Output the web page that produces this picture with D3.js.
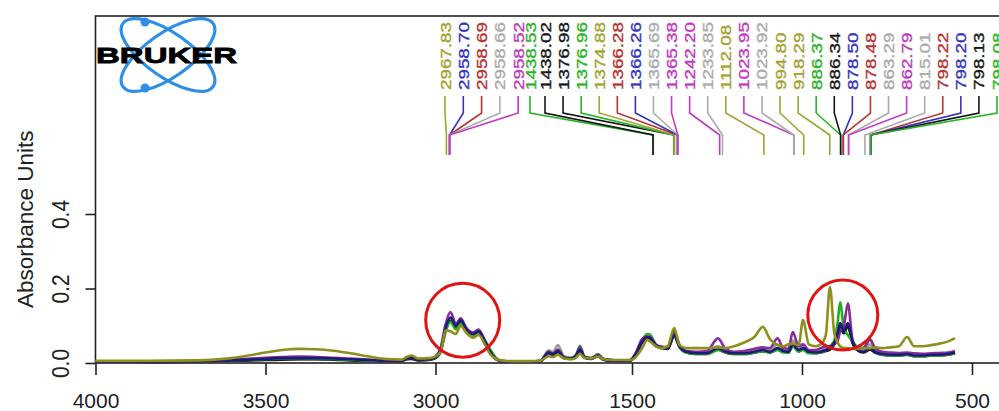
<!DOCTYPE html>
<meta charset="utf-8">
<style>
  body { margin: 0; background: #fff; }
  text { font-family: "Liberation Sans", Arial, sans-serif; }
</style>
<script src="https://cdnjs.cloudflare.com/ajax/libs/d3/7.8.5/d3.min.js"></script>
<body>
<div id="spectra"></div>
</body>
<script>
// wavenumber grid (cm-1) shared by all spectra
var wavenumbers = [4000, 3900, 3800, 3700, 3650, 3600, 3550, 3500, 3450, 3400,
  3350, 3300, 3250, 3200, 3150, 3100, 3085, 3070, 3050, 3020,
  3000, 2985, 2970, 2956, 2940, 2926, 2910, 2890, 2873, 2855,
  2838, 2820, 2800, 2760, 1800, 1770, 1745, 1732, 1718, 1700,
  1680, 1665, 1653, 1640, 1620, 1600, 1585, 1560, 1530, 1505,
  1490, 1470, 1455, 1447, 1430, 1415, 1395, 1376, 1360, 1340,
  1310, 1280, 1247, 1225, 1200, 1170, 1140, 1115, 1095, 1072,
  1055, 1040, 1027, 1010, 997, 980, 960, 945, 930, 918,
  905, 895, 888, 877, 865, 852, 840, 820, 800, 785,
  765, 740, 715, 691, 670, 645, 620, 595, 570, 550];

var grayAbs = [0.003, 0.003, 0.004, 0.004, 0.005, 0.006, 0.007, 0.009, 0.010, 0.010,
  0.010, 0.009, 0.008, 0.006, 0.005, 0.005, 0.010, 0.012, 0.007, 0.009,
  0.014, 0.032, 0.090, 0.115, 0.095, 0.110, 0.088, 0.075, 0.082, 0.056,
  0.026, 0.009, 0.004, 0.003, 0.003, 0.005, 0.034, 0.030, 0.048, 0.018,
  0.014, 0.020, 0.040, 0.016, 0.012, 0.018, 0.010, 0.006, 0.005, 0.006,
  0.020, 0.055, 0.068, 0.066, 0.046, 0.040, 0.038, 0.076, 0.044, 0.030,
  0.028, 0.028, 0.045, 0.034, 0.028, 0.028, 0.034, 0.040, 0.035, 0.050,
  0.036, 0.034, 0.060, 0.040, 0.044, 0.032, 0.030, 0.034, 0.040, 0.045,
  0.050, 0.065, 0.090, 0.080, 0.100, 0.055, 0.040, 0.036, 0.050, 0.034,
  0.026, 0.024, 0.024, 0.026, 0.022, 0.022, 0.024, 0.024, 0.026, 0.030];

var blackAbs = [0.003, 0.003, 0.003, 0.004, 0.005, 0.006, 0.007, 0.008, 0.009, 0.010,
  0.010, 0.009, 0.007, 0.006, 0.005, 0.005, 0.010, 0.011, 0.007, 0.008,
  0.013, 0.030, 0.088, 0.112, 0.094, 0.108, 0.088, 0.074, 0.080, 0.055,
  0.026, 0.009, 0.004, 0.003, 0.003, 0.004, 0.026, 0.022, 0.030, 0.013,
  0.011, 0.016, 0.034, 0.014, 0.011, 0.018, 0.009, 0.006, 0.005, 0.006,
  0.020, 0.055, 0.066, 0.064, 0.045, 0.040, 0.038, 0.072, 0.042, 0.028,
  0.024, 0.024, 0.036, 0.028, 0.024, 0.024, 0.028, 0.032, 0.028, 0.036,
  0.030, 0.028, 0.046, 0.032, 0.036, 0.028, 0.026, 0.028, 0.032, 0.036,
  0.050, 0.075, 0.100, 0.080, 0.100, 0.055, 0.036, 0.028, 0.036, 0.028,
  0.022, 0.020, 0.020, 0.022, 0.018, 0.018, 0.020, 0.020, 0.022, 0.026];

var greenAbs = [0.004, 0.004, 0.004, 0.005, 0.006, 0.007, 0.009, 0.011, 0.012, 0.013,
  0.012, 0.011, 0.009, 0.007, 0.006, 0.006, 0.012, 0.014, 0.008, 0.010,
  0.015, 0.030, 0.085, 0.110, 0.090, 0.105, 0.085, 0.072, 0.080, 0.062,
  0.035, 0.012, 0.005, 0.004, 0.004, 0.005, 0.030, 0.025, 0.034, 0.016,
  0.013, 0.022, 0.046, 0.018, 0.013, 0.024, 0.012, 0.008, 0.006, 0.008,
  0.025, 0.062, 0.078, 0.076, 0.050, 0.042, 0.040, 0.080, 0.045, 0.028,
  0.024, 0.024, 0.035, 0.028, 0.024, 0.024, 0.028, 0.032, 0.028, 0.035,
  0.028, 0.028, 0.045, 0.030, 0.036, 0.026, 0.026, 0.028, 0.035, 0.045,
  0.060, 0.110, 0.163, 0.095, 0.075, 0.060, 0.045, 0.040, 0.065, 0.035,
  0.022, 0.020, 0.020, 0.022, 0.018, 0.018, 0.020, 0.020, 0.022, 0.026];

var purpleAbs = [0.004, 0.004, 0.005, 0.006, 0.007, 0.009, 0.011, 0.014, 0.016, 0.017,
  0.016, 0.014, 0.012, 0.009, 0.007, 0.007, 0.014, 0.016, 0.009, 0.011,
  0.018, 0.040, 0.105, 0.137, 0.105, 0.120, 0.095, 0.082, 0.090, 0.060,
  0.028, 0.010, 0.005, 0.004, 0.004, 0.005, 0.030, 0.025, 0.036, 0.015,
  0.012, 0.020, 0.042, 0.016, 0.013, 0.022, 0.011, 0.008, 0.006, 0.008,
  0.025, 0.065, 0.072, 0.070, 0.050, 0.044, 0.042, 0.085, 0.048, 0.032,
  0.030, 0.032, 0.066, 0.038, 0.030, 0.032, 0.038, 0.042, 0.040, 0.066,
  0.040, 0.038, 0.083, 0.045, 0.050, 0.035, 0.035, 0.040, 0.045, 0.045,
  0.050, 0.060, 0.085, 0.100, 0.160, 0.065, 0.042, 0.040, 0.062, 0.040,
  0.030, 0.028, 0.027, 0.028, 0.026, 0.025, 0.026, 0.027, 0.028, 0.032];

var navyAbs = [0.004, 0.004, 0.004, 0.005, 0.006, 0.007, 0.009, 0.011, 0.013, 0.013,
  0.013, 0.012, 0.010, 0.008, 0.006, 0.006, 0.012, 0.014, 0.008, 0.010,
  0.016, 0.035, 0.095, 0.122, 0.100, 0.115, 0.092, 0.078, 0.085, 0.058,
  0.028, 0.010, 0.005, 0.004, 0.004, 0.005, 0.028, 0.024, 0.032, 0.014,
  0.012, 0.018, 0.036, 0.016, 0.012, 0.020, 0.010, 0.007, 0.006, 0.007,
  0.022, 0.058, 0.070, 0.068, 0.048, 0.042, 0.040, 0.075, 0.045, 0.030,
  0.026, 0.026, 0.040, 0.030, 0.026, 0.026, 0.030, 0.035, 0.030, 0.040,
  0.032, 0.030, 0.050, 0.035, 0.040, 0.030, 0.028, 0.030, 0.035, 0.040,
  0.055, 0.080, 0.107, 0.085, 0.107, 0.060, 0.040, 0.030, 0.040, 0.030,
  0.024, 0.022, 0.022, 0.024, 0.020, 0.020, 0.022, 0.022, 0.024, 0.028];

var oliveAbs = [0.006, 0.006, 0.006, 0.007, 0.009, 0.013, 0.020, 0.028, 0.035, 0.038,
  0.037, 0.033, 0.026, 0.018, 0.011, 0.009, 0.016, 0.020, 0.012, 0.013,
  0.018, 0.030, 0.088, 0.085, 0.078, 0.100, 0.082, 0.068, 0.075, 0.050,
  0.022, 0.010, 0.006, 0.005, 0.005, 0.006, 0.018, 0.016, 0.022, 0.012,
  0.010, 0.014, 0.025, 0.014, 0.012, 0.018, 0.010, 0.008, 0.008, 0.008,
  0.015, 0.040, 0.062, 0.058, 0.045, 0.040, 0.045, 0.094, 0.048, 0.040,
  0.040, 0.040, 0.042, 0.040, 0.045, 0.055, 0.070, 0.097, 0.065, 0.048,
  0.045, 0.050, 0.052, 0.048, 0.115, 0.050, 0.045, 0.050, 0.075, 0.204,
  0.080, 0.055, 0.045, 0.040, 0.040, 0.038, 0.038, 0.040, 0.040, 0.042,
  0.040, 0.042, 0.045, 0.070, 0.045, 0.045, 0.048, 0.052, 0.058, 0.067];

// drawing order: last one ends up on top
var seriesNames = ["gray", "black", "green", "purple", "navy", "olive"];
var seriesValues = [grayAbs, blackAbs, greenAbs, purpleAbs, navyAbs, oliveAbs];
var seriesColors = ["#9c9c9c", "#151515", "#22b022", "#8a2c9c", "#1c1c78", "#8f8f1c"];

// peak picking labels along the top
var peakLabels = ["2967.83", "2958.70", "2958.69", "2958.66", "2958.52", "1438.53", "1438.02",
  "1376.98", "1376.96", "1374.88", "1366.28", "1366.26", "1365.69", "1365.38", "1242.20",
  "1233.85", "1112.08", "1023.95", "1023.92", "994.80", "918.29", "886.37", "886.34",
  "878.50", "878.48", "863.29", "862.79", "815.01", "798.22", "798.20", "798.13", "798.08"];
var peakColors = ["olive", "blue", "red", "gray", "magenta", "green", "black",
  "black", "green", "olive", "red", "blue", "gray", "magenta", "magenta",
  "gray", "olive", "magenta", "gray", "olive", "olive", "green", "black",
  "blue", "red", "gray", "magenta", "gray", "red", "blue", "black", "green"];
var labelPalette = {olive: "#a3a332", blue: "#3535bd", red: "#b53434", gray: "#ababab",
  magenta: "#c13ac1", green: "#2ab42a", black: "#161616"};

// regions circled in red: [wavenumber, absorbance]
var highlights = [[2920, 0.115], [880, 0.129]];

var xTicks = [4000, 3500, 3000, 1500, 1000, 500];
var yTicks = [0.0, 0.2, 0.4];

var width = 999, height = 411;

var svg = d3.select("#spectra")
  .append("svg")
    .attr("width", width)
    .attr("height", height);

// broken wavenumber axis: 2750-1800 is squeezed out
var x = d3.scaleLinear()
  .domain([4000, 2750, 1800, 420])
  .range([95.5, 520.5, 530, 999.2]);

var y = d3.scaleLinear()
  .domain([0, 0.4])
  .range([363, 214]);

// frame
svg.append("rect")
  .attr("x", 95.5).attr("y", 16)
  .attr("width", 1000).attr("height", 347)
  .attr("fill", "none")
  .attr("stroke", "#222")
  .attr("stroke-width", 1.6);

// x axis
var xAxis = svg.append("g")
  .attr("transform", "translate(0,363)")
  .call(d3.axisBottom(x).tickValues(xTicks).tickSize(12).tickFormat(d3.format("d")));
xAxis.select(".domain").remove();
xAxis.selectAll("line").attr("stroke", "#222").attr("stroke-width", 1.6);
xAxis.selectAll("text")
  .attr("dy", null)
  .attr("y", 45)
  .attr("fill", "#222")
  .style("font-size", "21px")
  .attr("font-family", null);

// y axis
var yAxis = svg.append("g")
  .attr("transform", "translate(95.5,0)")
  .call(d3.axisLeft(y).tickValues(yTicks).tickSize(10).tickFormat(d3.format(".1f")));
yAxis.select(".domain").remove();
yAxis.selectAll("line").attr("stroke", "#222").attr("stroke-width", 1.6);
yAxis.selectAll("text")
  .attr("x", null)
  .attr("dy", null)
  .attr("text-anchor", "middle")
  .attr("transform", "translate(-27,0) scale(1.15,1) rotate(-90)")
  .attr("fill", "#222")
  .style("font-size", "21px")
  .attr("font-family", null);

svg.append("text")
  .attr("transform", "translate(33,308) rotate(-90)")
  .attr("fill", "#222")
  .style("font-size", "22.5px")
  .text("Absorbance Units");

// spectra
var line = d3.line()
  .x(function(d) { return x(d[0]); })
  .y(function(d) { return y(d[1]); })
  .curve(d3.curveMonotoneX);

svg.append("g")
  .selectAll("path")
  .data(seriesValues)
  .enter()
  .append("path")
    .attr("d", function(vals) {
      return line(wavenumbers.map(function(w, i) { return [w, vals[i]]; }));
    })
    .attr("fill", "none")
    .attr("stroke", function(d, i) { return seriesColors[i]; })
    .attr("stroke-width", 2.6)
    .attr("stroke-linejoin", "round");

// label slots (first group is packed tighter, one label squeezed in)
function labelX(i) {
  if (i < 5) return 445 + i * 18.3;
  if (i == 5) return 530;
  return 545 + (i - 6) * 18.08;
}

var labels = svg.append("g");
labels.selectAll("path")
  .data(peakLabels)
  .enter()
  .append("path")
    .attr("d", function(d, i) {
      var lx = labelX(i), tx = x(+d);
      return "M" + lx + ",96L" + lx + ",113L" + tx + ",135L" + tx + ",155";
    })
    .attr("fill", "none")
    .attr("stroke", function(d, i) { return labelPalette[peakColors[i]]; })
    .attr("stroke-width", 1.6);

labels.selectAll("text")
  .data(peakLabels)
  .enter()
  .append("text")
    .attr("transform", function(d, i) {
      return "translate(" + (labelX(i) + 5.5) + ",90) scale(0.8,1) rotate(-90)";
    })
    .attr("fill", function(d, i) { return labelPalette[peakColors[i]]; })
    .attr("stroke", function(d, i) { return labelPalette[peakColors[i]]; })
    .attr("stroke-width", 0.45)
    .style("font-size", "18.8px")
    .text(function(d) { return d; });

// red circles
svg.append("g")
  .selectAll("circle")
  .data(highlights)
  .enter()
  .append("circle")
    .attr("cx", function(d) { return x(d[0]); })
    .attr("cy", function(d) { return y(d[1]); })
    .attr("r", function(d, i) { return i == 0 ? 37 : 35; })
    .attr("fill", "none")
    .attr("stroke", "#e21212")
    .attr("stroke-width", 3);

// Bruker logo
var logo = svg.append("g").attr("transform", "translate(168,55)");
[35, -35].forEach(function(a) {
  logo.append("ellipse")
    .attr("rx", 55).attr("ry", 22)
    .attr("transform", "rotate(" + a + ")")
    .attr("fill", "none")
    .attr("stroke", "#2f8ee6")
    .attr("stroke-width", 3.2);
});
logo.append("circle").attr("cx", -23).attr("cy", -33).attr("r", 4.5).attr("fill", "#2f8ee6");
logo.append("circle").attr("cx", -23).attr("cy", 33).attr("r", 4.5).attr("fill", "#2f8ee6");
logo.append("text")
  .attr("transform", "translate(-72,8) scale(1.5,1)")
  .attr("fill", "#000")
  .attr("stroke", "#000")
  .attr("stroke-width", 0.8)
  .style("font-size", "22px")
  .style("font-weight", "bold")
  .text("BRUKER");
</script>
</html>
